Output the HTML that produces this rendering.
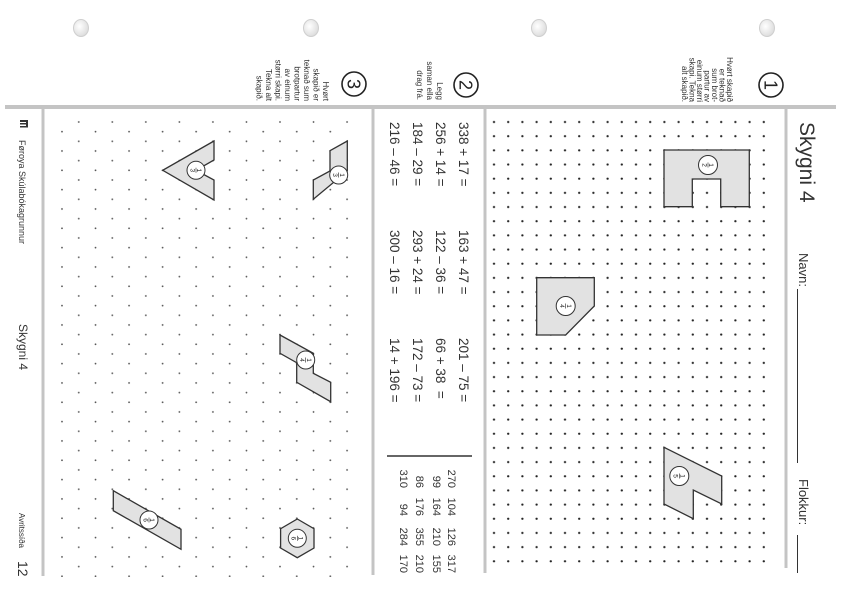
<!DOCTYPE html>
<html><head><meta charset="utf-8">
<style>
html,body{margin:0;padding:0;background:#fff;}
svg{display:block;font-family:"Liberation Sans",sans-serif;}
</style></head>
<body>
<svg width="842" height="596" viewBox="0 0 842 596" xmlns="http://www.w3.org/2000/svg">
<defs>
<pattern id="sq" x="486.9" y="114.92" width="14.2" height="14.17" patternUnits="userSpaceOnUse">
<circle cx="7.1" cy="7.08" r="1.15" fill="#222"/>
</pattern>
<pattern id="tri" x="53.6" y="117.5" width="33.54" height="19.33" patternUnits="userSpaceOnUse">
<circle cx="8.385" cy="14.17" r="0.9" fill="#555"/>
<circle cx="25.155" cy="4.5" r="0.9" fill="#555"/>
</pattern>
<radialGradient id="hole" cx="0.4" cy="0.4" r="0.7">
<stop offset="0" stop-color="#fff"/><stop offset="1" stop-color="#d8d8d8"/>
</radialGradient>
</defs>

<!-- holes -->
<g fill="url(#hole)" stroke="#cfcfcf" stroke-width="1">
<ellipse cx="81" cy="28" rx="7.5" ry="8.5"/>
<ellipse cx="311" cy="28" rx="7.5" ry="8.5"/>
<ellipse cx="539" cy="28" rx="7.5" ry="8.5"/>
<ellipse cx="767" cy="28" rx="7.5" ry="8.5"/>
</g>

<!-- frame lines -->
<line x1="5" y1="107" x2="836" y2="107" stroke="#c4c4c4" stroke-width="4"/>
<g stroke="#c4c4c4" stroke-width="3">
<line x1="43" y1="107" x2="43" y2="576"/>
<line x1="373" y1="107" x2="373" y2="575"/>
<line x1="485" y1="107" x2="485" y2="573"/>
<line x1="786" y1="107" x2="786" y2="568"/>
</g>

<!-- dot grids -->
<rect x="487" y="115" width="284" height="453" fill="url(#sq)"/>
<rect x="55" y="115" width="300" height="462" fill="url(#tri)"/>

<!-- header circles -->
<g fill="#fff" stroke="#222" stroke-width="1.6">
<circle cx="771" cy="85" r="12"/>
<circle cx="466" cy="85" r="12"/>
<circle cx="354" cy="84" r="12"/>
</g>
<g font-size="18" fill="#222" text-anchor="middle">
<text transform="translate(764.5 85) rotate(90)">1</text>
<text transform="translate(459.5 85) rotate(90)">2</text>
<text transform="translate(347.5 84) rotate(90)">3</text>
</g>

<!-- instructions -->
<g font-size="8" fill="#333" text-anchor="end">
<text transform="translate(727 102) rotate(90)">Hvørt skapið</text>
<text transform="translate(719.5 102) rotate(90)">er teknað</text>
<text transform="translate(712 102) rotate(90)">sum brot-</text>
<text transform="translate(704.5 102) rotate(90)">partur av</text>
<text transform="translate(697 102) rotate(90)">einum størri</text>
<text transform="translate(689.5 102) rotate(90)">skapi. Tekna</text>
<text transform="translate(682 102) rotate(90)">alt skapið.</text>

<text transform="translate(437 100) rotate(90)">Legg</text>
<text transform="translate(427 100) rotate(90)">saman ella</text>
<text transform="translate(417 100) rotate(90)">drag frá.</text>

<text transform="translate(323 101) rotate(90)">Hvørt</text>
<text transform="translate(313.5 101) rotate(90)">skapið er</text>
<text transform="translate(304 101) rotate(90)">teknað sum</text>
<text transform="translate(294.5 101) rotate(90)">brotpartur</text>
<text transform="translate(285 101) rotate(90)">av einum</text>
<text transform="translate(275.5 101) rotate(90)">størri skapi.</text>
<text transform="translate(266 101) rotate(90)">Tekna alt</text>
<text transform="translate(256.5 101) rotate(90)">skapið.</text>
</g>

<!-- title area -->
<g fill="#333">
<text transform="translate(800 122) rotate(90)" font-size="21">Skygni 4</text>
<text transform="translate(799 253) rotate(90)" font-size="13">Navn:</text>
<text transform="translate(799 479) rotate(90)" font-size="13">Flokkur:</text>
</g>
<g stroke="#333" stroke-width="1">
<line x1="797.5" y1="289" x2="797.5" y2="463"/>
<line x1="797.5" y1="535" x2="797.5" y2="573"/>
</g>

<!-- shapes section 1 -->
<g fill="#e2e2e2" stroke="#333" stroke-width="1.3" stroke-linejoin="miter">
<polygon points="664,150 749.3,150 749.3,206.7 720.7,206.7 720.7,179 692.3,179 692.3,206.7 664,206.7"/>
<polygon points="536.7,277.7 594.3,277.7 594.3,306 565.7,335 536.7,335"/>
<polygon points="664,447.3 721.7,476 721.7,504 693.3,490 693.3,518.7 664,504"/>
<!-- section 3 -->
<polygon points="214,141 162.7,170.3 214,200 214,180 196,170.3 214,160"/>
<polygon points="330,150.7 347.3,141 347.3,171 313.3,199.3 313.3,180 330,171"/>
<polygon points="280,335 313.3,353.3 313.3,373.3 330.7,382.3 330.7,401.7 296.7,382.3 296.7,362.7 280,353.3"/>
<polygon points="113.3,490.7 181,529.3 181,549.3 113.3,510.7"/>
<polygon points="297.3,519 314,528.7 314,548 297.3,557.7 280.6,548 280.6,528.7"/>
</g>

<!-- fraction circles -->
<g fill="#fff" stroke="#333" stroke-width="1">
<circle cx="708" cy="165" r="9.5"/>
<circle cx="565.7" cy="306" r="9.5"/>
<circle cx="679.3" cy="476" r="9.5"/>
<circle cx="196" cy="170.3" r="9"/>
<circle cx="338.7" cy="175" r="9"/>
<circle cx="305.7" cy="360" r="9"/>
<circle cx="149" cy="520" r="9"/>
<circle cx="297.3" cy="538.3" r="9"/>
</g>
<g font-size="6.5" fill="#222" text-anchor="middle">
<g transform="translate(708 165) rotate(90)"><text x="0" y="-1.2">1</text><text x="0" y="5.6">2</text><line x1="-2.5" y1="0" x2="2.5" y2="0" stroke="#222" stroke-width="0.6"/></g>
<g transform="translate(565.7 306) rotate(90)"><text x="0" y="-1.2">1</text><text x="0" y="5.6">4</text><line x1="-2.5" y1="0" x2="2.5" y2="0" stroke="#222" stroke-width="0.6"/></g>
<g transform="translate(679.3 476) rotate(90)"><text x="0" y="-1.2">1</text><text x="0" y="5.6">5</text><line x1="-2.5" y1="0" x2="2.5" y2="0" stroke="#222" stroke-width="0.6"/></g>
<g transform="translate(196 170.3) rotate(90)"><text x="0" y="-1.2">1</text><text x="0" y="5.6">3</text><line x1="-2.5" y1="0" x2="2.5" y2="0" stroke="#222" stroke-width="0.6"/></g>
<g transform="translate(338.7 175) rotate(90)"><text x="0" y="-1.2">1</text><text x="0" y="5.6">3</text><line x1="-2.5" y1="0" x2="2.5" y2="0" stroke="#222" stroke-width="0.6"/></g>
<g transform="translate(305.7 360) rotate(90)"><text x="0" y="-1.2">1</text><text x="0" y="5.6">4</text><line x1="-2.5" y1="0" x2="2.5" y2="0" stroke="#222" stroke-width="0.6"/></g>
<g transform="translate(149 520) rotate(90)"><text x="0" y="-1.2">1</text><text x="0" y="5.6">6</text><line x1="-2.5" y1="0" x2="2.5" y2="0" stroke="#222" stroke-width="0.6"/></g>
<g transform="translate(297.3 538.3) rotate(90)"><text x="0" y="-1.2">1</text><text x="0" y="5.6">6</text><line x1="-2.5" y1="0" x2="2.5" y2="0" stroke="#222" stroke-width="0.6"/></g>
</g>

<!-- math -->
<g font-size="13.5" fill="#333">
<text transform="translate(459 122) rotate(90)">338 + 17 =</text>
<text transform="translate(436 122) rotate(90)">256 + 14 =</text>
<text transform="translate(413 122) rotate(90)">184 – 29 =</text>
<text transform="translate(390 122) rotate(90)">216 – 46 =</text>
<text transform="translate(459 230) rotate(90)">163 + 47 =</text>
<text transform="translate(436 230) rotate(90)">122 – 36 =</text>
<text transform="translate(413 230) rotate(90)">293 + 24 =</text>
<text transform="translate(390 230) rotate(90)">300 – 16 =</text>
<text transform="translate(459 338) rotate(90)">201 – 75 =</text>
<text transform="translate(436 338) rotate(90)">66 + 38&#160;&#160;=</text>
<text transform="translate(413 338) rotate(90)">172 – 73 =</text>
<text transform="translate(390 338) rotate(90)">14 + 196 =</text>
</g>
<line x1="387" y1="456" x2="472" y2="456" stroke="#333" stroke-width="1.5"/>
<g font-size="11" fill="#333" text-anchor="end">
<text transform="translate(448 488) rotate(90)">270</text>
<text transform="translate(448 516) rotate(90)">104</text>
<text transform="translate(448 546) rotate(90)">126</text>
<text transform="translate(448 573) rotate(90)">317</text>
<text transform="translate(433 488) rotate(90)">99</text>
<text transform="translate(433 516) rotate(90)">164</text>
<text transform="translate(433 546) rotate(90)">210</text>
<text transform="translate(433 573) rotate(90)">155</text>
<text transform="translate(416 488) rotate(90)">86</text>
<text transform="translate(416 516) rotate(90)">176</text>
<text transform="translate(416 546) rotate(90)">355</text>
<text transform="translate(416 573) rotate(90)">210</text>
<text transform="translate(400 488) rotate(90)">310</text>
<text transform="translate(400 516) rotate(90)">94</text>
<text transform="translate(400 546) rotate(90)">284</text>
<text transform="translate(400 573) rotate(90)">170</text>
</g>

<!-- footer -->
<g fill="#333">
<rect x="20" y="120" width="8" height="2" />
<rect x="20" y="123" width="8" height="1.5" />
<rect x="20" y="126" width="8" height="1.5" />
<rect x="26" y="120" width="2" height="7.5" />
<text transform="translate(19 140) rotate(90)" font-size="9">Føroya Skúlabókagrunnur</text>
<text transform="translate(19 324) rotate(90)" font-size="12">Skygni 4</text>
<text transform="translate(19 513) rotate(90)" font-size="8">Avritssíða</text>
<text transform="translate(18 561) rotate(90)" font-size="14">12</text>
</g>
</svg>
</body></html>
